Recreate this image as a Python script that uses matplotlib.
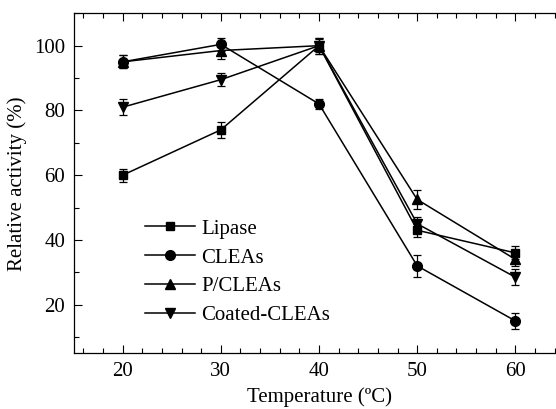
import matplotlib

matplotlib.use("Agg")
import matplotlib.pyplot as plt
from matplotlib.ticker import MultipleLocator

plt.rcParams.update(
    {
        "font.family": "serif",
        "font.serif": ["Liberation Serif", "DejaVu Serif"],
        "font.size": 14.5,
    }
)

temperature = [20, 30, 40, 50, 60]

lipase = [60.0, 74.0, 100.0, 43.0, 36.0]
lipase_err = [2.0, 2.5, 2.5, 2.0, 2.0]

cleas = [95.0, 100.4, 82.0, 32.0, 15.0]
cleas_err = [2.0, 2.0, 1.5, 3.5, 2.5]

p_cleas = [95.0, 98.5, 100.0, 52.5, 34.0]
p_cleas_err = [2.0, 2.5, 2.5, 3.0, 2.0]

coated = [81.0, 89.5, 100.0, 45.0, 28.5]
coated_err = [2.5, 2.0, 2.0, 2.0, 2.5]

series = [
    ("Lipase", lipase, lipase_err, "s", 6.0),
    ("CLEAs", cleas, cleas_err, "o", 7.0),
    ("P/CLEAs", p_cleas, p_cleas_err, "^", 7.5),
    ("Coated-CLEAs", coated, coated_err, "v", 7.5),
]

fig = plt.figure(figsize=(5.56, 4.09), dpi=100)
# right spine sits just past the canvas edge, as in the original
ax = fig.add_axes([0.1322, 0.1362, 0.8831, 0.8313])

for label, y, err, marker, ms in series:
    ax.errorbar(
        temperature,
        y,
        yerr=err,
        color="black",
        marker=marker,
        markersize=ms,
        linewidth=1.1,
        elinewidth=0.9,
        capsize=3.2,
        capthick=0.9,
        label=label,
    )

ax.set_xlim(15, 65)
ax.set_ylim(5, 110)
ax.xaxis.set_major_locator(MultipleLocator(10))
ax.xaxis.set_minor_locator(MultipleLocator(2))
ax.yaxis.set_major_locator(MultipleLocator(20))
ax.yaxis.set_minor_locator(MultipleLocator(10))
ax.tick_params(which="both", direction="in", top=True, right=False, width=0.8)
ax.tick_params(which="major", length=6, pad=6, labelsize=15)
ax.tick_params(which="minor", length=3.5)
for s in ax.spines.values():
    s.set_linewidth(0.9)

ax.set_xlabel("Temperature (ºC)", labelpad=5, fontsize=15)
ax.set_ylabel("Relative activity (%)", labelpad=5, fontsize=15)

handles, labels = ax.get_legend_handles_labels()
handles = [h[0] for h in handles]
ax.legend(
    handles,
    labels,
    loc="upper left",
    bbox_to_anchor=(0.145, 0.395),
    frameon=False,
    borderpad=0,
    borderaxespad=0,
    handlelength=2.4,
    handletextpad=0.3,
    labelspacing=0.45,
    fontsize=15,
)

fig.savefig("out.png", dpi=100)
